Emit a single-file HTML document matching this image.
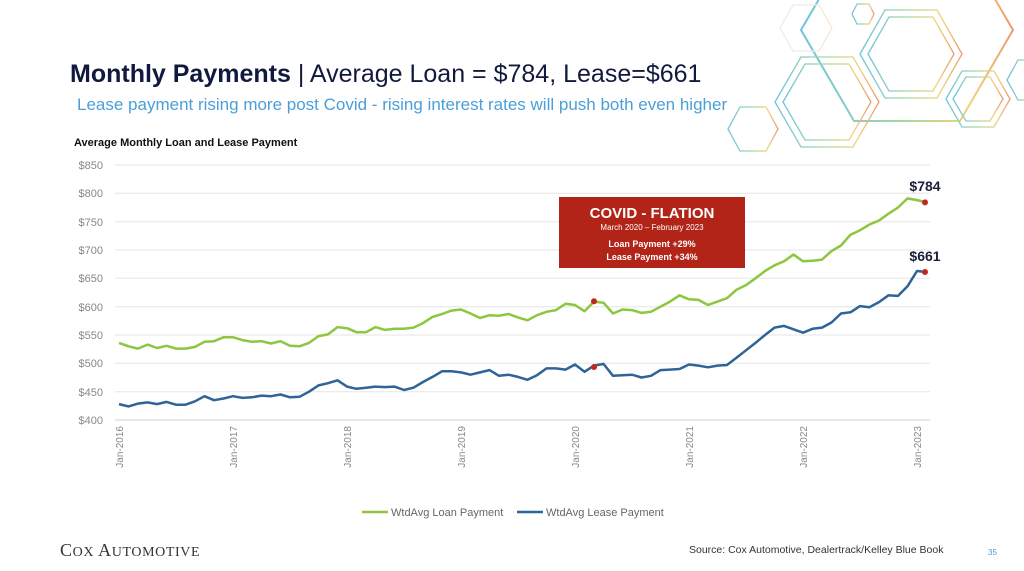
<!DOCTYPE html>
<html><head><meta charset="utf-8"><style>
body{margin:0;width:1024px;height:571px;background:#fff;overflow:hidden;font-family:"Liberation Sans",sans-serif;position:relative}
.t{position:absolute;white-space:nowrap}
</style></head><body>
<svg width="1024" height="571" style="position:absolute;left:0;top:0">
<defs>
<linearGradient id="g1" x1="0" x2="1" y1="0" y2="0"><stop offset="0" stop-color="#6cc4de"/><stop offset="0.5" stop-color="#a8d8a0"/><stop offset="0.8" stop-color="#f2d27a"/><stop offset="1" stop-color="#eb9a6e"/></linearGradient>
<linearGradient id="g2" x1="0" x2="1" y1="0" y2="0"><stop offset="0" stop-color="#e2f0f2"/><stop offset="1" stop-color="#f8e6d8"/></linearGradient>
</defs>
<g fill="none" stroke="url(#g1)" stroke-width="1.3">
<polygon points="801,30 854,-61 960,-61 1013,30 960,121 854,121" stroke-width="2"/>
<polygon points="852,14 857,4 869,4 874,14 869,24 857,24"/>
<polygon points="860,54 885,10 937,10 962,54 937,98 885,98"/>
<polygon points="868,54 889,17 933,17 954,54 933,91 889,91"/>
<polygon points="775,102 801,57 853,57 879,102 853,147 801,147"/>
<polygon points="783,102 805,64 849,64 871,102 849,140 805,140"/>
<polygon points="946,99 962,71 994,71 1010,99 994,127 962,127"/>
<polygon points="953,99 966,77 990,77 1003,99 990,121 966,121"/>
<polygon points="1007,80 1018,60 1042,60 1053,80 1042,100 1018,100"/>
<polygon points="728,129 740,107 766,107 778,129 766,151 740,151"/>
</g>
<polygon points="780,28 793,5 819,5 832,28 819,51 793,51" fill="none" stroke="url(#g2)" stroke-width="1.3"/>
<g stroke="#e6e6e6" stroke-width="1">
<line x1="115" x2="930" y1="165" y2="165"/><line x1="115" x2="930" y1="193.3" y2="193.3"/><line x1="115" x2="930" y1="221.7" y2="221.7"/><line x1="115" x2="930" y1="250" y2="250"/><line x1="115" x2="930" y1="278.3" y2="278.3"/><line x1="115" x2="930" y1="306.7" y2="306.7"/><line x1="115" x2="930" y1="335" y2="335"/><line x1="115" x2="930" y1="363.3" y2="363.3"/><line x1="115" x2="930" y1="391.7" y2="391.7"/><line x1="115" x2="930" y1="420" y2="420" stroke="#d0d0d0"/>
</g>
<g font-size="11" fill="#888" text-anchor="end" font-family="Liberation Sans,sans-serif">
<text x="103" y="169">$850</text><text x="103" y="197">$800</text><text x="103" y="226">$750</text><text x="103" y="254">$700</text><text x="103" y="282">$650</text><text x="103" y="311">$600</text><text x="103" y="339">$550</text><text x="103" y="367">$500</text><text x="103" y="396">$450</text><text x="103" y="424">$400</text>
</g>
<g font-size="10" fill="#888" text-anchor="end" font-family="Liberation Sans,sans-serif">
<text transform="translate(123,426) rotate(-90)">Jan-2016</text>
<text transform="translate(237,426) rotate(-90)">Jan-2017</text>
<text transform="translate(351,426) rotate(-90)">Jan-2018</text>
<text transform="translate(465,426) rotate(-90)">Jan-2019</text>
<text transform="translate(579,426) rotate(-90)">Jan-2020</text>
<text transform="translate(693,426) rotate(-90)">Jan-2021</text>
<text transform="translate(807,426) rotate(-90)">Jan-2022</text>
<text transform="translate(921,426) rotate(-90)">Jan-2023</text>
</g>
<polyline id="loan" fill="none" stroke="#8dc63f" stroke-width="2.5" stroke-linejoin="round"/>
<polyline id="lease" fill="none" stroke="#2e6496" stroke-width="2.5" stroke-linejoin="round"/>
<circle cx="594" cy="301.3" r="3" fill="#c0281e"/>
<circle cx="594" cy="367" r="3" fill="#c0281e"/>
<circle cx="925" cy="202.4" r="3" fill="#c0281e"/>
<circle cx="925" cy="272" r="3" fill="#c0281e"/>
<rect x="559" y="197" width="186" height="71" fill="#b22418"/>
<text x="652" y="218" font-size="15" font-weight="bold" fill="#fff" text-anchor="middle">COVID - FLATION</text>
<text x="652" y="230" font-size="8" fill="#fff" text-anchor="middle">March 2020 – February 2023</text>
<text x="652" y="247" font-size="9" font-weight="bold" fill="#fff" text-anchor="middle">Loan Payment +29%</text>
<text x="652" y="260" font-size="9" font-weight="bold" fill="#fff" text-anchor="middle">Lease Payment +34%</text>
<text x="925" y="191" font-size="14" font-weight="bold" fill="#1a1f3c" text-anchor="middle">$784</text>
<text x="925" y="261" font-size="14" font-weight="bold" fill="#1a1f3c" text-anchor="middle">$661</text>
<line x1="362" x2="388" y1="512" y2="512" stroke="#8dc63f" stroke-width="2.5"/>
<text x="391" y="516" font-size="11" fill="#666">WtdAvg Loan Payment</text>
<line x1="517" x2="543" y1="512" y2="512" stroke="#2e6496" stroke-width="2.5"/>
<text x="546" y="516" font-size="11" fill="#666">WtdAvg Lease Payment</text>
</svg>
<div class="t" style="left:70px;top:60px;font-size:25px;color:#111a3e"><b>Monthly Payments</b> | Average Loan = $784, Lease=$661</div>
<div class="t" style="left:77px;top:95px;font-size:17px;color:#4a9fd9">Lease payment rising more post Covid - rising interest rates will push both even higher</div>
<div class="t" style="left:74px;top:137px;font-size:11px;font-weight:bold;color:#111">Average Monthly Loan and Lease Payment</div>
<div class="t" style="left:60px;top:540px;font-size:18px;color:#333;font-family:'Liberation Serif',serif;letter-spacing:0.6px">C<span style="font-size:14px">OX</span> A<span style="font-size:14px">UTOMOTIVE</span></div>
<div class="t" style="left:689px;top:544px;font-size:10.5px;color:#333">Source: Cox Automotive, Dealertrack/Kelley Blue Book</div>
<div class="t" style="left:988px;top:548px;font-size:8px;color:#4a9fd9">35</div>
<script>
var loan=[536,530,526,533,527,531,526,526,529,538,539,546,546,541,538,539,535,539,531,530,536,548,551,564,562,555,555,564,559,561,561,563,571,582,587,593,595,588,580,585,584,587,581,576,585,591,594,605,603,592,609,607,588,595,594,589,591,600,609,620,613,612,603,609,615,630,638,650,663,673,680,692,680,681,683,698,708,727,735,745,752,764,775,791,788,784];
var lease=[428,424,429,431,428,432,427,427,433,442,435,438,442,439,440,443,442,445,440,441,450,461,465,470,459,455,457,459,458,459,453,457,467,476,486,486,484,480,484,488,478,480,476,471,479,491,491,489,498,485,496,499,478,479,480,475,478,488,489,490,498,496,493,496,497,510,523,536,550,563,566,560,554,561,563,572,588,590,601,599,608,620,619,636,663,661];
function pts(a){return a.map(function(v,i){return (119+i*9.5).toFixed(1)+","+(420-(v-400)*0.5667).toFixed(1)}).join(" ")}
document.getElementById("loan").setAttribute("points",pts(loan));
document.getElementById("lease").setAttribute("points",pts(lease));
</script>
</body></html>
